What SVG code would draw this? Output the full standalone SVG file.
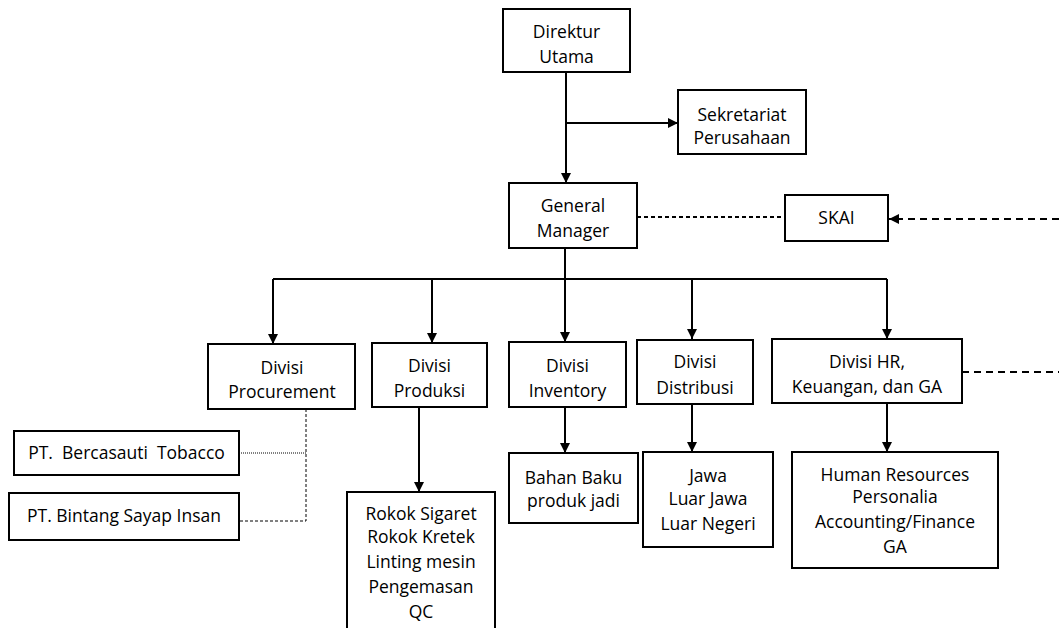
<svg xmlns="http://www.w3.org/2000/svg" width="1059" height="628" viewBox="0 0 1059 628">
<style>
.box{fill:#fff;stroke:#000;stroke-width:2}
.t{font-family:"Open Sans","Liberation Sans",sans-serif;font-size:17.5px;fill:#000;text-anchor:middle}
.pre{white-space:pre}
.c{fill:none;stroke:#000;stroke-width:2}
.d1{fill:none;stroke:#000;stroke-width:2;stroke-dasharray:4 3}
.d2{fill:none;stroke:#000;stroke-width:1.8;stroke-dasharray:7 5}
.d3{fill:none;stroke:#000;stroke-width:1;stroke-dasharray:3 2}
.d4{fill:none;stroke:#000;stroke-width:1;stroke-dasharray:1 1}
</style>
<defs>
<marker id="ah" viewBox="0 0 10 10" refX="10" refY="5" markerWidth="10" markerHeight="10" markerUnits="userSpaceOnUse" orient="auto">
<path d="M0,0 L10,5 L0,10 Z" fill="#000"/>
</marker>
</defs>
<rect width="1059" height="628" fill="#fff"/>
<g id="connectors">
<path class="c" d="M566,72 V183" marker-end="url(#ah)"/>
<path class="c" d="M566,123 H678" marker-end="url(#ah)"/>
<path class="d1" d="M637,217 H786"/>
<path class="d2" d="M1059,219 H889" marker-end="url(#ah)"/>
<path class="c" d="M565,248 V279"/>
<path class="c" d="M273,279 H887"/>
<path class="c" d="M273,279 V344" marker-end="url(#ah)"/>
<path class="c" d="M432,279 V343" marker-end="url(#ah)"/>
<path class="c" d="M565,279 V342" marker-end="url(#ah)"/>
<path class="c" d="M692,279 V339" marker-end="url(#ah)"/>
<path class="c" d="M887,279 V339" marker-end="url(#ah)"/>
<path class="d2" d="M962,372 H1059"/>
<path class="c" d="M419,407 V492" marker-end="url(#ah)"/>
<path class="c" d="M565,407 V453" marker-end="url(#ah)"/>
<path class="c" d="M692,404 V452" marker-end="url(#ah)"/>
<path class="c" d="M887,403 V452" marker-end="url(#ah)"/>
<path class="d3" d="M306,409 V521 H239"/>
<path class="d4" d="M239,453 H306"/>
</g>
<g id="direktur">
<rect class="box" x="503" y="9" width="127" height="63"/>
<text class="t" x="566.5" y="38">Direktur</text>
<text class="t" x="566.5" y="63">Utama</text>
</g>
<g id="sekretariat">
<rect class="box" x="678" y="90" width="128" height="64"/>
<text class="t" x="742" y="121">Sekretariat</text>
<text class="t" x="742" y="144">Perusahaan</text>
</g>
<g id="gm">
<rect class="box" x="509" y="183" width="128" height="65"/>
<text class="t" x="573" y="212">General</text>
<text class="t" x="573" y="237">Manager</text>
</g>
<g id="skai">
<rect class="box" x="785" y="195" width="103" height="46"/>
<text class="t" x="836.5" y="224">SKAI</text>
</g>
<g id="procurement">
<rect class="box" x="208" y="344" width="147" height="65"/>
<text class="t" x="282" y="374">Divisi</text>
<text class="t" x="282" y="398">Procurement</text>
</g>
<g id="produksi">
<rect class="box" x="372" y="343" width="115" height="64"/>
<text class="t" x="429.5" y="372">Divisi</text>
<text class="t" x="429.5" y="397">Produksi</text>
</g>
<g id="inventory">
<rect class="box" x="509" y="342" width="117" height="65"/>
<text class="t" x="567.5" y="372">Divisi</text>
<text class="t" x="567.5" y="397">Inventory</text>
</g>
<g id="distribusi">
<rect class="box" x="637" y="340" width="116" height="64"/>
<text class="t" x="695" y="368">Divisi</text>
<text class="t" x="695" y="394">Distribusi</text>
</g>
<g id="hr">
<rect class="box" x="772" y="339" width="190" height="64"/>
<text class="t" x="867" y="368">Divisi HR,</text>
<text class="t" x="867" y="393">Keuangan, dan GA</text>
</g>
<g id="bercasauti">
<rect class="box" x="14" y="431" width="225" height="44"/>
<text class="t pre" x="126.5" y="459">PT.  Bercasauti  Tobacco</text>
</g>
<g id="bintang">
<rect class="box" x="9" y="493" width="230" height="47"/>
<text class="t" x="124" y="522">PT. Bintang Sayap Insan</text>
</g>
<g id="rokok">
<rect class="box" x="347" y="492" width="148" height="150"/>
<text class="t" x="421" y="520">Rokok Sigaret</text>
<text class="t" x="421" y="543">Rokok Kretek</text>
<text class="t" x="421" y="568">Linting mesin</text>
<text class="t" x="421" y="593">Pengemasan</text>
<text class="t" x="421" y="618">QC</text>
</g>
<g id="bahan">
<rect class="box" x="509" y="453" width="129" height="70"/>
<text class="t" x="573.5" y="484">Bahan Baku</text>
<text class="t" x="573.5" y="507">produk jadi</text>
</g>
<g id="jawa">
<rect class="box" x="643" y="452" width="130" height="95"/>
<text class="t" x="708" y="482">Jawa</text>
<text class="t" x="708" y="505">Luar Jawa</text>
<text class="t" x="708" y="530">Luar Negeri</text>
</g>
<g id="hrchild">
<rect class="box" x="792" y="452" width="206" height="116"/>
<text class="t" x="895" y="481">Human Resources</text>
<text class="t" x="895" y="503">Personalia</text>
<text class="t" x="895" y="528">Accounting/Finance</text>
<text class="t" x="895" y="553">GA</text>
</g>
</svg>
